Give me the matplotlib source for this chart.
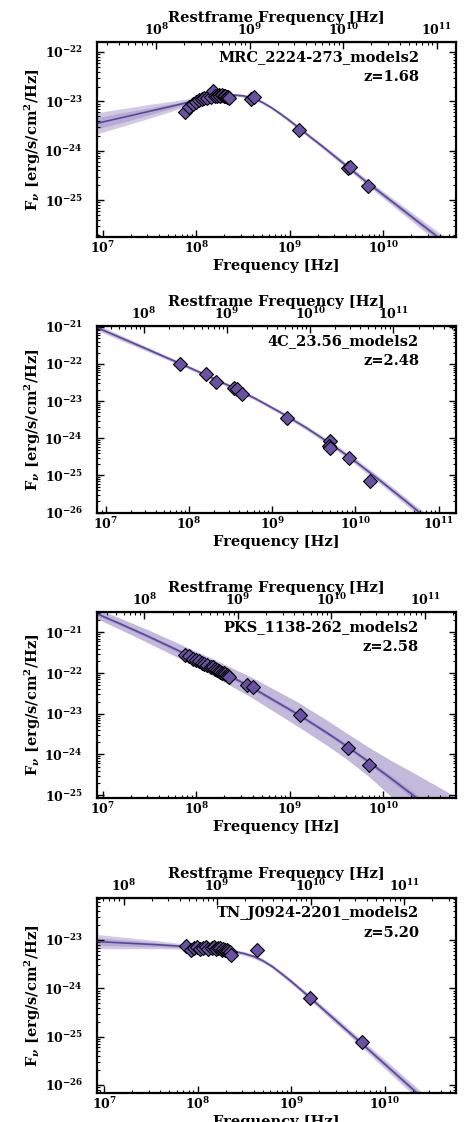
import numpy as np
import matplotlib
matplotlib.use("Agg")
import matplotlib.pyplot as plt

plt.rcParams["font.family"] = "DejaVu Serif"
plt.rcParams["font.weight"] = "bold"
plt.rcParams["axes.labelweight"] = "bold"
plt.rcParams["mathtext.fontset"] = "dejavuserif"
plt.rcParams["mathtext.default"] = "bf"

# GLEAM band centres [Hz], shared by three sources
gleam = [76e6, 84e6, 92e6, 99e6, 107e6, 115e6, 122e6, 130e6, 143e6, 151e6,
         158e6, 166e6, 174e6, 181e6, 189e6, 197e6, 204e6, 212e6, 220e6, 227e6]

# --- MRC_2224-273 ---
mrc_z = 1.68
mrc_freq = gleam + [3.9e8, 4.1e8, 1.26e9, 4.2e9, 4.4e9, 6.8e9]
mrc_flux = [6.2e-24, 7.7e-24, 9.0e-24, 9.8e-24, 1.05e-23, 1.1e-23, 1.15e-23, 1.2e-23,
            1.25e-23, 1.6e-23, 1.28e-23, 1.3e-23, 1.32e-23, 1.3e-23, 1.33e-23, 1.3e-23,
            1.28e-23, 1.25e-23, 1.22e-23, 1.2e-23,
            1.1e-23, 1.23e-23, 2.7e-24, 4.4e-25, 4.7e-25, 1.9e-25]
mrc_mod_lx = [6.9, 7.2, 7.5, 7.8, 8.0, 8.1, 8.2, 8.3, 8.4, 8.5, 8.6, 8.7, 8.8, 8.9, 9.0,
              9.1, 9.2, 9.35, 9.5, 9.65, 9.8, 10.0, 10.3, 10.6, 10.8]
mrc_mod_ly = [-23.46, -23.33, -23.20, -23.07, -22.98, -22.94, -22.90, -22.875, -22.87, -22.885,
              -22.93, -23.01, -23.12, -23.25, -23.39, -23.54, -23.69, -23.91, -24.14, -24.37,
              -24.60, -24.89, -25.33, -25.77, -26.06]
mrc_outer = [0.22, 0.18, 0.14, 0.09, 0.06, 0.05, 0.04, 0.035, 0.03, 0.03, 0.03, 0.03, 0.03, 0.035,
             0.04, 0.04, 0.04, 0.045, 0.05, 0.055, 0.06, 0.07, 0.09, 0.11, 0.12]
mrc_inner = [0.12, 0.10, 0.07, 0.045, 0.03, 0.025, 0.02, 0.02, 0.02, 0.02, 0.02, 0.02, 0.02, 0.02,
             0.02, 0.02, 0.02, 0.025, 0.03, 0.03, 0.03, 0.04, 0.05, 0.06, 0.07]

# --- 4C_23.56 ---
c4_z = 2.48
c4_freq = [7.8e7, 1.6e8, 2.1e8, 3.5e8, 3.8e8, 4.3e8, 1.5e9, 5.0e9, 4.8e9, 4.9e9, 8.3e9, 1.5e10]
c4_flux = [1.02e-22, 5.4e-23, 3.3e-23, 2.2e-23, 2.1e-23, 1.6e-23, 3.5e-24, 8.7e-25, 6.2e-25,
           5.5e-25, 2.95e-25, 7.1e-26]
c4_mod_lx = [6.9, 7.2, 7.5, 7.9, 8.2, 8.5, 8.8, 9.1, 9.4, 9.7, 10.0, 10.3, 10.6, 10.9, 11.21]
c4_mod_ly = [-21.02, -21.31, -21.60, -21.99, -22.29, -22.60, -22.93, -23.30, -23.70, -24.14,
             -24.62, -25.14, -25.68, -26.23, -26.80]
c4_outer = [0.08, 0.07, 0.06, 0.05, 0.05, 0.05, 0.05, 0.05, 0.06, 0.07, 0.08, 0.09, 0.10, 0.11, 0.12]
c4_inner = [0.04, 0.035, 0.03, 0.025, 0.025, 0.025, 0.025, 0.025, 0.03, 0.035, 0.04, 0.045, 0.05, 0.055, 0.06]

# --- PKS_1138-262 ---
pks_z = 2.58
pks_freq = gleam + [3.5e8, 4.0e8, 1.28e9, 4.2e9, 7.1e9]
pks_flux = [2.85e-22, 2.57e-22, 2.29e-22, 2.11e-22, 1.95e-22, 1.78e-22, 1.66e-22, 1.55e-22,
            1.40e-22, 1.45e-22, 1.26e-22, 1.18e-22, 1.12e-22, 1.07e-22, 1.02e-22, 9.8e-23,
            9.3e-23, 8.9e-23, 8.5e-23, 8.0e-23,
            5.0e-23, 4.6e-23, 9.1e-24, 1.48e-24, 5.4e-25]
pks_mod_lx = [6.9, 7.2, 7.5, 7.85, 8.2, 8.6, 9.1, 9.4, 9.6, 9.85, 10.1, 10.3, 10.6, 10.8]
pks_mod_ly = [-20.50, -20.80, -21.11, -21.49, -21.88, -22.36, -23.03, -23.47, -23.78, -24.19,
              -24.62, -24.97, -25.51, -25.88]
pks_outer = [0.12, 0.14, 0.16, 0.18, 0.21, 0.25, 0.30, 0.31, 0.32, 0.36, 0.45, 0.55, 0.70, 0.80]
pks_inner = [0.04, 0.04, 0.04, 0.05, 0.05, 0.05, 0.05, 0.05, 0.05, 0.06, 0.07, 0.08, 0.09, 0.10]

# --- TN_J0924-2201 ---
tn_z = 5.20
tn_freq = gleam + [4.3e8, 1.6e9, 5.75e9]
tn_flux = [7.5e-24, 6.3e-24, 6.8e-24, 7.2e-24, 6.5e-24, 7.0e-24, 7.3e-24, 6.6e-24, 7.0e-24,
           7.3e-24, 6.4e-24, 6.9e-24, 6.7e-24, 6.3e-24, 6.6e-24, 6.1e-24, 6.3e-24, 5.8e-24,
           5.6e-24, 5.0e-24,
           6.1e-24, 6.3e-25, 7.6e-26]
tn_mod_lx = [6.9, 7.3, 7.6, 7.9, 8.1, 8.3, 8.4, 8.5, 8.6, 8.7, 8.8, 8.9, 9.0, 9.1, 9.2, 9.3,
             9.46, 9.6, 9.76, 10.06, 10.36, 10.8]
tn_mod_ly = [-23.03, -23.07, -23.10, -23.14, -23.17, -23.21, -23.24, -23.28, -23.34, -23.43,
             -23.55, -23.70, -23.855, -24.02, -24.19, -24.36, -24.635, -24.875, -25.15, -25.67,
             -26.19, -26.95]
tn_outer = [0.15, 0.11, 0.08, 0.05, 0.045, 0.04, 0.04, 0.04, 0.04, 0.04, 0.04, 0.045, 0.05, 0.05,
            0.06, 0.06, 0.07, 0.07, 0.08, 0.10, 0.11, 0.13]
tn_inner = [0.08, 0.06, 0.04, 0.03, 0.025, 0.02, 0.02, 0.02, 0.02, 0.02, 0.02, 0.025, 0.03, 0.03,
            0.03, 0.03, 0.04, 0.04, 0.04, 0.05, 0.06, 0.07]

panels = [
    ("MRC_2224-273_models2", mrc_z, mrc_freq, mrc_flux, mrc_mod_lx, mrc_mod_ly, mrc_outer, mrc_inner,
     (8.7e6, 6.0e10), (1.8e-26, 1.6e-22), [0.2034, 0.7888, 0.7526, 0.1738], 0.30),
    ("4C_23.56_models2", c4_z, c4_freq, c4_flux, c4_mod_lx, c4_mod_ly, c4_outer, c4_inner,
     (7.9e6, 1.62e11), (0.98e-26, 1.03e-21), [0.2034, 0.5428, 0.7526, 0.1663], 0.30),
    ("PKS_1138-262_models2", pks_z, pks_freq, pks_flux, pks_mod_lx, pks_mod_ly, pks_outer, pks_inner,
     (8.7e6, 6.0e10), (8.5e-26, 3.2e-21), [0.2034, 0.2888, 0.7526, 0.1658], 0.40),
    ("TN_J0924-2201_models2", tn_z, tn_freq, tn_flux, tn_mod_lx, tn_mod_ly, tn_outer, tn_inner,
     (8.4e6, 5.8e10), (6.8e-27, 7.4e-23), [0.2034, 0.0258, 0.7526, 0.1738], 0.30),
]

purple = "#6a51a3"
line_col = "#5a479d"

fig = plt.figure(figsize=(4.77, 11.22), dpi=100)

for name, z, freq, flux, mlx, mly, outer, inner, xlim, ylim, rect, band_alpha in panels:
    ax = fig.add_axes(rect)
    mx = 10 ** np.array(mlx)
    my = np.array(mly)
    ax.fill_between(mx, 10 ** (my - np.array(outer)), 10 ** (my + np.array(outer)),
                    color=purple, alpha=band_alpha, lw=0)
    ax.fill_between(mx, 10 ** (my - np.array(inner)), 10 ** (my + np.array(inner)),
                    color=purple, alpha=0.25, lw=0)
    ax.plot(mx, 10 ** my, color=line_col, lw=1.2)
    ax.plot(freq, flux, "D", ms=7.5, mfc=purple, mec="black", mew=0.8, ls="none")

    ax.set_xscale("log")
    ax.set_yscale("log")
    ax.set_xlim(*xlim)
    ax.set_ylim(*ylim)

    for s in ax.spines.values():
        s.set_linewidth(1.6)
    ax.tick_params(which="both", direction="in", top=False, right=True, labelsize=9)
    ax.tick_params(which="major", length=5, width=1)
    ax.tick_params(which="minor", length=2.5, width=0.8)
    ax.tick_params(axis="y", which="both", pad=10)
    ax.tick_params(axis="x", which="both", pad=2.5)

    ax.set_xlabel("Frequency [Hz]", fontsize=10.5, labelpad=2)
    ax.set_ylabel(r"F$_{\mathit{\nu}}$ [erg/s/cm$^2$/Hz]", fontsize=10.5)
    ax.yaxis.set_label_coords(-0.15, 0.5)

    sec = ax.secondary_xaxis("top", functions=(lambda x, z=z: x * (1 + z),
                                               lambda x, z=z: x / (1 + z)))
    sec.tick_params(which="both", direction="in", labelsize=9, pad=3)
    sec.tick_params(which="major", length=5, width=1)
    sec.tick_params(which="minor", length=2.5, width=0.8)
    sec.set_xlabel("Restframe Frequency [Hz]", fontsize=10.5, labelpad=0)

    ax.annotate(name, xy=(1, 1), xycoords="axes fraction", xytext=(-37, -15),
                textcoords="offset pixels", ha="right", va="center", fontsize=10.5)
    ax.annotate("z=%.2f" % z, xy=(1, 1), xycoords="axes fraction", xytext=(-37, -35),
                textcoords="offset pixels", ha="right", va="center", fontsize=10.5)

fig.savefig("out.png", dpi=100)
